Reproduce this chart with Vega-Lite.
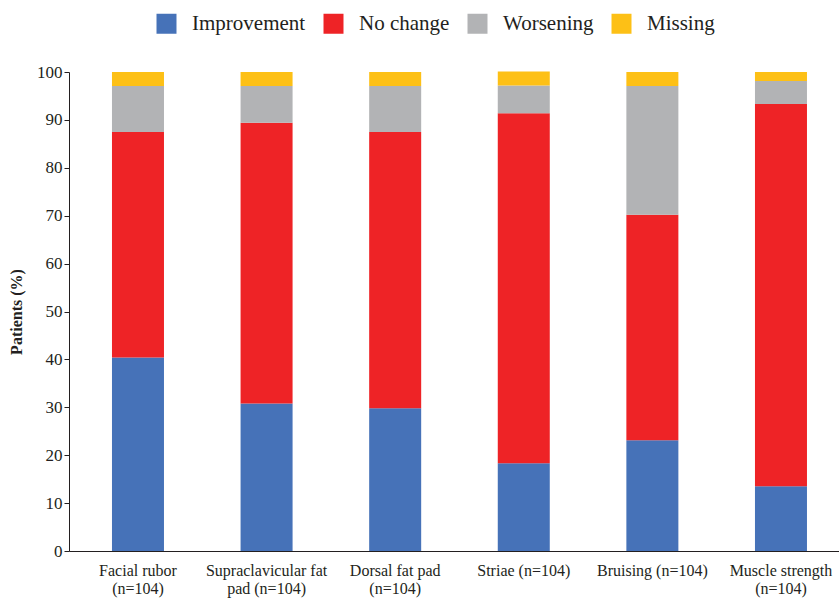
{
  "$schema": "https://vega.github.io/schema/vega-lite/v6.json",
  "width": 770,
  "height": 479,
  "autosize": "none",
  "padding": {"left": 69, "top": 72, "right": 0, "bottom": 51},
  "background": "white",
  "config": {"view": {"stroke": null}, "font": "Liberation Serif",
    "axis": {"labelFont": "Liberation Serif", "titleFont": "Liberation Serif"},
    "legend": {"labelFont": "Liberation Serif"}},
  "data": {"values": [
    {"item": "Facial rubor|(n=104)", "status": "Improvement", "ord": 1, "pct": 40.4},
    {"item": "Facial rubor|(n=104)", "status": "No change", "ord": 2, "pct": 47.1},
    {"item": "Facial rubor|(n=104)", "status": "Worsening", "ord": 3, "pct": 9.6},
    {"item": "Facial rubor|(n=104)", "status": "Missing", "ord": 4, "pct": 2.9},
    {"item": "Supraclavicular fat|pad (n=104)", "status": "Improvement", "ord": 1, "pct": 30.8},
    {"item": "Supraclavicular fat|pad (n=104)", "status": "No change", "ord": 2, "pct": 58.6},
    {"item": "Supraclavicular fat|pad (n=104)", "status": "Worsening", "ord": 3, "pct": 7.7},
    {"item": "Supraclavicular fat|pad (n=104)", "status": "Missing", "ord": 4, "pct": 2.9},
    {"item": "Dorsal fat pad|(n=104)", "status": "Improvement", "ord": 1, "pct": 29.8},
    {"item": "Dorsal fat pad|(n=104)", "status": "No change", "ord": 2, "pct": 57.7},
    {"item": "Dorsal fat pad|(n=104)", "status": "Worsening", "ord": 3, "pct": 9.6},
    {"item": "Dorsal fat pad|(n=104)", "status": "Missing", "ord": 4, "pct": 2.9},
    {"item": "Striae (n=104)", "status": "Improvement", "ord": 1, "pct": 18.3},
    {"item": "Striae (n=104)", "status": "No change", "ord": 2, "pct": 73.1},
    {"item": "Striae (n=104)", "status": "Worsening", "ord": 3, "pct": 5.8},
    {"item": "Striae (n=104)", "status": "Missing", "ord": 4, "pct": 2.9},
    {"item": "Bruising (n=104)", "status": "Improvement", "ord": 1, "pct": 23.1},
    {"item": "Bruising (n=104)", "status": "No change", "ord": 2, "pct": 47.1},
    {"item": "Bruising (n=104)", "status": "Worsening", "ord": 3, "pct": 26.9},
    {"item": "Bruising (n=104)", "status": "Missing", "ord": 4, "pct": 2.9},
    {"item": "Muscle strength|(n=104)", "status": "Improvement", "ord": 1, "pct": 13.5},
    {"item": "Muscle strength|(n=104)", "status": "No change", "ord": 2, "pct": 79.8},
    {"item": "Muscle strength|(n=104)", "status": "Worsening", "ord": 3, "pct": 4.8},
    {"item": "Muscle strength|(n=104)", "status": "Missing", "ord": 4, "pct": 1.9}
  ]},
  "mark": {"type": "bar"},
  "encoding": {
    "x": {
      "field": "item", "type": "nominal", "sort": null,
      "scale": {"paddingInner": 0.5956, "paddingOuter": 0.2916, "align": 0.573},
      "axis": {
        "title": null, "labelAngle": 0, "labelExpr": "split(datum.label, '|')",
        "labelFontSize": 16, "labelColor": "#231f20", "labelPadding": 11,
        "ticks": false, "domainColor": "#231f20", "domainWidth": 1, "labelLineHeight": 18
      }
    },
    "y": {
      "field": "pct", "type": "quantitative", "stack": "zero",
      "scale": {"domain": [0, 100], "nice": false},
      "axis": {
        "title": "Patients (%)", "titleFontSize": 16, "titleFontWeight": "bold", "titleColor": "#231f20",
        "titlePadding": 12,
        "values": [0, 10, 20, 30, 40, 50, 60, 70, 80, 90, 100],
        "labelFontSize": 17, "labelColor": "#231f20", "grid": false,
        "tickSize": 5, "tickColor": "#231f20", "domainColor": "#231f20", "labelPadding": 2
      }
    },
    "color": {
      "field": "status", "type": "nominal",
      "scale": {
        "domain": ["Improvement", "No change", "Worsening", "Missing"],
        "range": ["#4672b8", "#ee2326", "#b2b3b5", "#fdc016"]
      },
      "legend": {
        "orient": "none", "legendX": 87, "legendY": -59, "direction": "horizontal",
        "title": null, "symbolType": "square", "symbolSize": 400, "symbolStrokeWidth": 0,
        "labelFontSize": 21, "labelColor": "#231f20", "labelOffset": 15, "columnPadding": 17,
        "labelLimit": 300,
        "encode": {"symbols": {"update": {"fill": {"signal": "datum.value === 'Improvement' ? '#1a6fbd' : scale('color', datum.value)"}}}}
      }
    },
    "order": {"field": "ord", "type": "quantitative", "sort": "ascending"}
  }
}
